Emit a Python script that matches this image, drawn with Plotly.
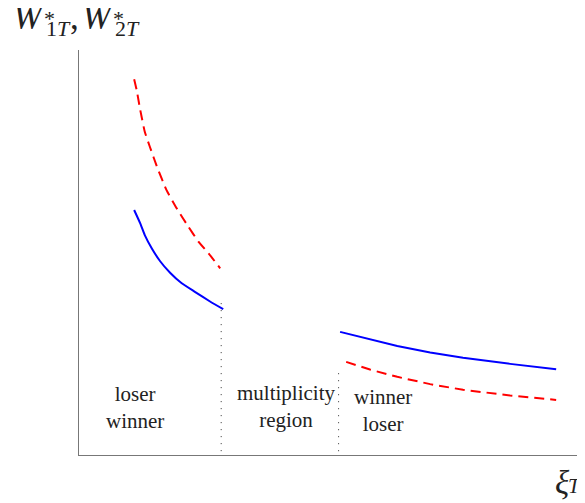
import plotly.graph_objects as go

# ---- data (arbitrary units: xi_T on x, W on y) ----
red_left_x = [1.09, 1.14, 1.21, 1.30, 1.40, 1.54, 1.73, 1.93, 2.16, 2.36, 2.56, 2.79]
red_left_y = [9.28, 9.01, 8.52, 7.98, 7.61, 7.12, 6.54, 6.09, 5.64, 5.27, 4.98, 4.61]
blue_left_x = [1.09, 1.21, 1.30, 1.44, 1.60, 1.80, 2.03, 2.29, 2.59, 2.85]
blue_left_y = [6.05, 5.72, 5.43, 5.10, 4.79, 4.50, 4.24, 4.03, 3.79, 3.60]
blue_right_x = [5.16, 5.75, 6.29, 6.94, 7.59, 8.52, 9.43]
blue_right_y = [3.04, 2.86, 2.69, 2.53, 2.40, 2.25, 2.12]
red_right_x = [5.28, 5.75, 6.29, 6.94, 7.59, 8.52, 9.43]
red_right_y = [2.30, 2.11, 1.93, 1.75, 1.61, 1.47, 1.36]
bound1_x = [2.81, 2.81]
bound1_y = [3.75, 0.0]
bound2_x = [5.13, 5.13]
bound2_y = [2.02, -0.07]
region_labels = ["loser<br>winner", "multiplicity<br>region", "winner<br>loser"]
region_x = [1.11, 4.09, 6.0]
region_y = [1.17, 1.20, 1.11]

# page is drawn with an 8px body margin; screen-pixel helpers below account for it
OFF = 8
W, H = 585 - OFF, 503 - OFF
ML, MR, MT = 79 - OFF, 0, 50 - OFF
PW, PH = 506, 405
MB = H - MT - PH


def px(sx):
    return (sx - 79) / PW


def py(sy):
    return (455 - sy) / PH


SERIF = "'Liberation Serif', 'Times New Roman', serif"
INK = "#222222"

fig = go.Figure()
fig.add_trace(go.Scatter(x=red_left_x, y=red_left_y, mode="lines", line_shape="spline",
                         line=dict(color="#ff0000", width=2, dash="10px,6px", smoothing=0.4)))
fig.add_trace(go.Scatter(x=blue_left_x, y=blue_left_y, mode="lines", line_shape="spline",
                         line=dict(color="#0000ff", width=2, smoothing=0.4)))
fig.add_trace(go.Scatter(x=blue_right_x, y=blue_right_y, mode="lines",
                         line=dict(color="#0000ff", width=2)))
fig.add_trace(go.Scatter(x=red_right_x, y=red_right_y, mode="lines",
                         line=dict(color="#ff0000", width=2, dash="10px,6px")))
for bx, by in [(bound1_x, bound1_y), (bound2_x, bound2_y)]:
    fig.add_trace(go.Scatter(x=bx, y=by, mode="lines", cliponaxis=False,
                             line=dict(color="#333333", width=1, dash="1px,6px")))

for t, x, y in zip(region_labels, region_x, region_y):
    fig.add_annotation(x=x, y=y, xref="x", yref="y", text=t, showarrow=False,
                       font=dict(family=SERIF, size=21, color=INK),
                       xanchor="center", yanchor="middle")


def label(text, sx, sy, size, anchor="left"):
    fig.add_annotation(x=px(sx), y=py(sy), xref="paper", yref="paper", showarrow=False,
                       text=text, font=dict(family=SERIF, size=size, color=INK),
                       xanchor=anchor, yanchor="middle")


# y label: W*_{1T}, W*_{2T}
label("<i>W</i>", 11, 17, 35)
label("*", 49, 19, 22, "center")
label("1<i>T</i>", 44, 28, 22)
label(",", 68, 17, 35)
label("<i>W</i>", 80, 17, 35)
label("*", 118, 19, 22, "center")
label("2<i>T</i>", 113, 28, 22)

# x label: xi_T
label("<i>ξ</i>", 553, 483, 33)
label("<i>T</i>", 566, 486, 21)

fig.update_layout(
    width=W, height=H,
    margin=dict(l=ML, r=MR, t=MT, b=MB),
    paper_bgcolor="white", plot_bgcolor="white",
    showlegend=False,
    xaxis=dict(range=[0, 10], showgrid=False, zeroline=False, showticklabels=False,
               ticks="", showline=True, linecolor="#777777", linewidth=1.3, fixedrange=True),
    yaxis=dict(range=[0, 10], showgrid=False, zeroline=False, showticklabels=False,
               ticks="", showline=True, linecolor="#777777", linewidth=1.3, fixedrange=True),
)

fig.write_html("out.html", config={"displayModeBar": False})
